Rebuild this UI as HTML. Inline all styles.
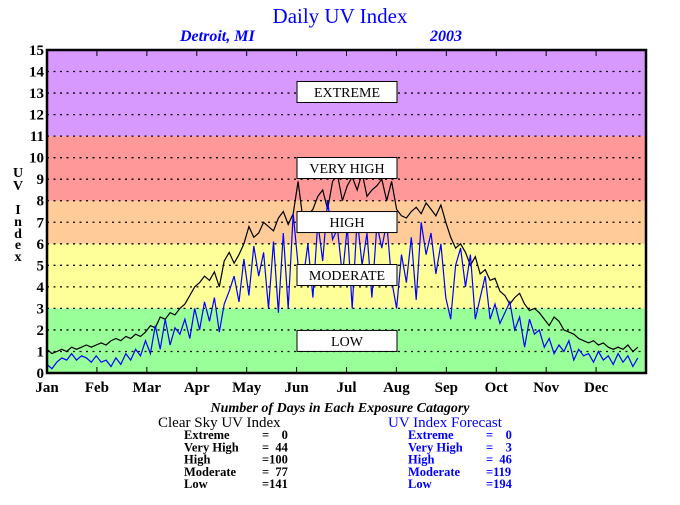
<!DOCTYPE html>
<html><head><meta charset="utf-8"><style>
body{margin:0;background:#fff;width:680px;height:500px;overflow:hidden;font-family:"Liberation Serif",serif}
svg text{font-family:"Liberation Serif",serif;font-weight:bold}
</style></head><body>
<svg id="chart" width="680" height="500" xmlns="http://www.w3.org/2000/svg">
<g id="bands"></g><g id="grid"></g><g id="lines"></g><g id="boxes"></g><g id="axes"></g>
<text x="340" y="23" text-anchor="middle" font-size="21" fill="#0000ff" style="font-weight:normal">Daily UV Index</text>
<text x="180" y="41" font-size="16" fill="#0000ff" font-style="italic">Detroit, MI</text>
<text x="430" y="41" font-size="16" fill="#0000ff" font-style="italic">2003</text>
<text font-size="14" fill="#000" text-anchor="middle">
<tspan x="18" y="177">U</tspan><tspan x="18" y="190">V</tspan><tspan x="18" y="214">I</tspan><tspan x="18" y="226">n</tspan><tspan x="18" y="238">d</tspan><tspan x="18" y="249">e</tspan><tspan x="18" y="261">x</tspan></text>
<text x="340" y="412" text-anchor="middle" font-size="14" font-style="italic">Number of Days in Each Exposure Catagory</text>
<text x="158" y="427" font-size="15" style="font-weight:normal">Clear Sky UV Index</text>
<text x="388" y="427" font-size="15" fill="#0000ff" style="font-weight:normal">UV Index Forecast</text>
<g id="stats" font-size="12.5"></g>
</svg>
<script>
const months=["Jan","Feb","Mar","Apr","May","Jun","Jul","Aug","Sep","Oct","Nov","Dec"];
const yTicks=[0,1,2,3,4,5,6,7,8,9,10,11,12,13,14,15];
const bandLimits=[0,3,6,8,11,15];
const bandColors=["#99ff99","#ffff99","#ffcc99","#ff9999","#d899ff"];
const bandLabels=["LOW","MODERATE","HIGH","VERY HIGH","EXTREME"];
const bandLabelValues=[1.49,4.55,7.01,9.52,13.05];
const stepDays=3;
const clearSky=[1.1,0.9,1.0,1.1,1.0,1.2,1.1,1.2,1.3,1.2,
1.3,1.4,1.3,1.5,1.6,1.5,1.7,1.6,1.8,1.7,
1.9,2.2,2.1,2.6,2.5,2.8,2.7,3.0,3.2,3.6,
4.0,4.2,4.5,4.3,4.7,4.0,5.2,5.6,5.1,5.5,
6.0,6.8,6.3,6.5,7.0,6.8,6.6,7.2,7.5,6.9,
7.4,8.9,7.1,7.3,7.6,8.2,8.5,7.6,8.9,9.2,
8.0,8.7,9.1,8.5,9.3,8.2,8.5,8.7,9.0,8.0,
8.9,7.6,7.3,7.2,7.5,7.7,7.4,7.9,7.6,7.3,
7.8,7.0,6.3,5.8,6.0,5.6,5.0,5.4,4.6,4.8,
4.3,4.4,3.8,3.6,3.2,3.5,3.7,3.2,2.9,3.0,
2.8,2.5,2.2,2.6,2.4,2.0,1.9,1.8,1.6,1.5,
1.4,1.5,1.3,1.4,1.2,1.1,1.2,1.1,1.3,1.0,1.2];
const forecast=[0.4,0.2,0.5,0.7,0.6,0.9,0.6,0.8,0.7,0.5,
0.8,0.5,0.6,0.3,0.7,0.4,0.9,0.6,1.1,0.8,
1.5,0.9,2.2,1.1,2.5,1.3,2.1,1.8,2.5,1.6,
3.0,2.0,3.3,2.4,3.5,1.9,3.2,3.8,4.5,3.3,
5.3,3.6,5.9,4.5,5.6,3.0,6.1,2.8,6.5,3.0,
7.4,5.0,4.3,6.0,3.5,7.0,5.2,8.0,6.2,6.7,
4.5,6.8,3.0,7.2,5.0,6.5,3.5,6.9,5.8,7.0,
4.3,3.0,5.5,4.2,6.3,3.4,7.0,5.5,6.5,4.6,
6.0,3.5,2.5,5.0,5.8,4.0,5.5,2.5,3.5,4.5,
2.5,3.2,2.3,2.8,3.3,2.0,2.6,1.2,2.5,1.8,
2.0,1.2,1.6,0.9,1.3,1.0,1.5,0.6,1.1,0.8,
0.9,0.5,1.0,0.6,0.8,0.4,0.9,0.5,0.8,0.3,0.7];
const statLabels=["Extreme","Very High","High","Moderate","Low"];
const clearCounts=["=    0","=  44","=100","=  77","=141"];
const forecastCounts=["=    0","=    3","=  46","=119","=194"];

const NS="http://www.w3.org/2000/svg";
const L=47,R=646,T=50,B=373;
const x=d=>L+d*(R-L)/365;
const y=v=>B-v*(B-T)/15;
function mk(tag,parent,attrs){const e=document.createElementNS(NS,tag);for(const k in attrs)e.setAttribute(k,attrs[k]);document.getElementById(parent).appendChild(e);return e;}

for(let i=0;i<bandColors.length;i++){
 const r=mk("rect","bands",{x:L,y:y(bandLimits[i+1]),width:R-L,height:y(bandLimits[i])-y(bandLimits[i+1]),fill:bandColors[i]});
 
 
 const bx=mk("rect","boxes",{x:297,y:y(bandLabelValues[i])-10.5,width:100,height:21,fill:"#fff",stroke:"#000"});
 
 
 const t=mk("text","boxes",{x:347,y:y(bandLabelValues[i])+5,"text-anchor":"middle","font-size":"14",style:"font-weight:normal"});
 t.textContent=bandLabels[i];
 
 
}
yTicks.forEach(v=>{
 if(v>0&&v<15){const g=mk("line","grid",{x1:L,x2:R,y1:y(v),y2:y(v),stroke:"#000","stroke-dasharray":"2,4.5","stroke-width":"1.3"});
 
 }
 const t=mk("text","axes",{x:44,y:y(v)+5,"text-anchor":"end","font-size":"15"});
 t.textContent=v;
 
 
});
function line(arr,color,name){
 const p=arr.map((v,i)=>x(i*stepDays).toFixed(1)+","+y(v).toFixed(1)).join(" ");
 const l=mk("polyline","lines",{points:p,fill:"none",stroke:color,"stroke-width":"1.2"});
 
 
}
line(clearSky,"#000","clear-sky-line");
line(forecast,"#0000ff","forecast-line");
const fr=mk("rect","axes",{x:L,y:T,width:R-L,height:B-T,fill:"none",stroke:"#000","stroke-width":"2.5"});


months.forEach((m,i)=>{
 const xx=L+i*(R-L)/12;
 const tk=mk("line","axes",{x1:xx,x2:xx,y1:B,y2:B-6,stroke:"#000"});
 
 
 const tt=mk("line","axes",{x1:xx,x2:xx,y1:T,y2:T+6,stroke:"#000"});
 
 
 const t=mk("text","axes",{x:xx,y:392,"text-anchor":"middle","font-size":"15"});
 t.textContent=m;
 
 
});
statLabels.forEach((s,i)=>{
 const yy=439+i*12.3;
 [[184,s,"#000"],[262,clearCounts[i],"#000"],[408,s,"#0000ff"],[486,forecastCounts[i],"#0000ff"]].forEach(([xx,txt,c],j)=>{
  const t=mk("text","stats",{x:xx,y:yy,fill:c});
  t.style.whiteSpace="pre";
  t.textContent=txt;
  
  
 });
});
</script>
</body></html>
